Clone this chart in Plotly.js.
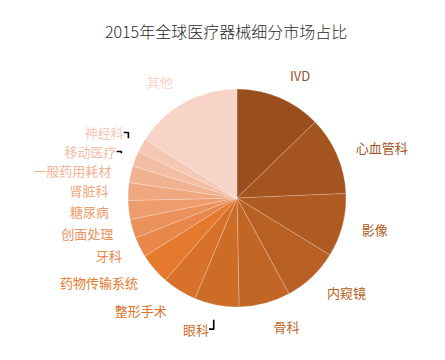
<!DOCTYPE html>
<html>
<head>
<meta charset="utf-8">
<script src="https://cdn.plot.ly/plotly-3.0.1.min.js"></script>
<style>html,body{margin:0;padding:0;background:#fff;}#chart{width:445px;height:360px;}</style>
</head>
<body>
<div id="chart"></div>
<script>
const categories = ["IVD","心血管科","影像","内窥镜","骨科","眼科","整形手术","药物传输系统","牙科","创面处理","糖尿病","肾脏科","一般药用耗材","移动医疗","神经科","其他"];
const shares = [12.7, 11.6, 9.4, 8.3, 7.6, 6.6, 5.1, 4.6, 3.0, 2.8, 2.8, 2.6, 2.5, 2.2, 2.1, 15.9];
const sliceColors = ["#9A4E1E","#A4541F","#AE5A21","#B86023","#C26625","#CC6C27","#D8722A","#E57A2E","#E9864A","#EB915C","#ED9C6E","#EFA780","#F1B292","#F3BDA4","#F5C8B6","#F8D3C8"];

// center (237,198) px, radius 109 px for the pie; labels drawn by a transparent, larger copy
const W = 445, H = 360, cx = 237, cy = 198, R = 109, RL = 124;
function dom(r) {
  return {x: [(cx - r) / W, (cx + r) / W], y: [(H - cy - r) / H, (H - cy + r) / H]};
}

const pie = {
  type: "pie",
  labels: categories,
  values: shares,
  sort: false,
  direction: "clockwise",
  rotation: 0,
  textinfo: "none",
  automargin: false,
  marker: {colors: sliceColors, line: {color: "rgba(255,255,255,0.35)", width: 0.6}},
  domain: dom(R),
  showlegend: false
};

const labelsPie = {
  type: "pie",
  labels: categories,
  values: shares,
  sort: false,
  direction: "clockwise",
  rotation: 0,
  textinfo: "label",
  textposition: "outside",
  automargin: false,
  marker: {colors: categories.map(() => "rgba(0,0,0,0)"), line: {width: 0}},
  outsidetextfont: {family: "Noto Sans CJK SC", size: 13, color: sliceColors},
  textfont: {family: "Noto Sans CJK SC", size: 13, color: sliceColors},
  domain: dom(RL),
  showlegend: false
};

const layout = {
  width: W, height: H,
  margin: {l: 0, r: 0, t: 0, b: 0},
  paper_bgcolor: "#ffffff",
  title: {text: "2015年全球医疗器械细分市场占比", x: 0.508, xanchor: "center", y: 0.91, yanchor: "middle",
          font: {family: "Noto Sans CJK SC", size: 16, color: "#2a2a2a", weight: 300}},
  showlegend: false
};

Plotly.newPlot("chart", [pie, labelsPie], layout, {displayModeBar: false, staticPlot: true});
</script>
</body>
</html>
